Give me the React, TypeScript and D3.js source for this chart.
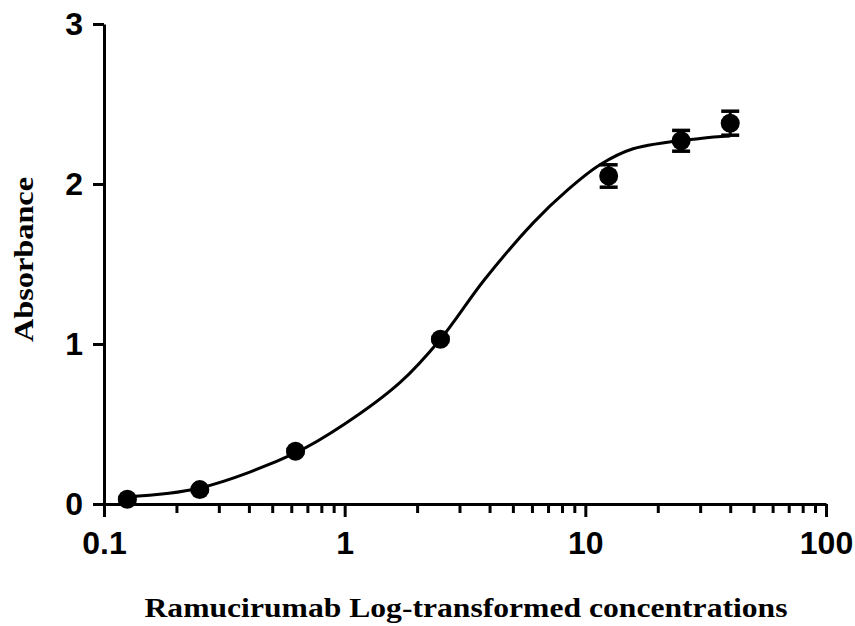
import * as d3 from "d3";
import React, { useEffect, useRef } from "react";

// measured points (concentration, mean absorbance, error)
const concentrations = [0.125, 0.25, 0.625, 2.5, 12.5, 25, 40];
const absorbance = [0.03, 0.09, 0.33, 1.03, 2.05, 2.27, 2.38];
const errors = [0.01, 0.01, 0.01, 0.01, 0.07, 0.065, 0.075];

// fitted curve
const fitX = [0.125, 0.25, 0.625, 1.0, 1.7, 2.5, 3.8, 6.1, 8.4, 11.5, 15.8, 30, 40];
const fitY = [0.045, 0.1, 0.32, 0.5, 0.76, 1.03, 1.4, 1.76, 1.96, 2.12, 2.22, 2.285, 2.3];

const xMajor = [0.1, 1, 10, 100];
const xMinor = [2, 3, 4, 5, 6, 7, 8, 9].flatMap((m) => [m * 0.1, m, m * 10]);
const yTicks = [0, 1, 2, 3];

const xTitle = "Ramucirumab Log-transformed concentrations";
const yTitle = "Absorbance";

const W = 855;
const H = 626;

export default function App() {
  const svgRef = useRef<SVGSVGElement>(null);

  useEffect(() => {
    const svg = d3.select(svgRef.current);
    svg.selectAll("*").remove();

    const x = d3.scaleLog().domain([0.1, 100]).range([104, 826]);
    const y = d3.scaleLinear().domain([0, 3]).range([504, 24]);

    const tickFont = "Liberation Sans, Arial, sans-serif";
    const titleFont = "Liberation Serif, Times New Roman, serif";

    // minor x ticks
    const minor = svg
      .append("g")
      .attr("transform", `translate(0,${y(0)})`)
      .call(
        d3.axisBottom(x).tickValues(xMinor).tickSize(9).tickSizeOuter(0).tickFormat(() => "")
      );
    minor.select(".domain").remove();
    minor.selectAll("line").attr("stroke", "#000").attr("stroke-width", 3);

    // major x ticks
    const xAxis = svg
      .append("g")
      .attr("transform", `translate(0,${y(0)})`)
      .call(
        d3
          .axisBottom(x)
          .tickValues(xMajor)
          .tickSize(13)
          .tickSizeOuter(0)
          .tickPadding(14)
          .tickFormat((d) => d3.format("~g")(d as number))
      );
    xAxis.select(".domain").attr("stroke", "#000").attr("stroke-width", 3);
    xAxis.selectAll("line").attr("stroke", "#000").attr("stroke-width", 3);
    xAxis
      .selectAll("text")
      .attr("fill", "#000")
      .attr("font-family", tickFont)
      .attr("font-weight", "bold")
      .attr("font-size", 32);

    const yAxis = svg
      .append("g")
      .attr("transform", `translate(${x(0.1)},0)`)
      .call(
        d3
          .axisLeft(y)
          .tickValues(yTicks)
          .tickSize(11)
          .tickSizeOuter(0)
          .tickPadding(10)
          .tickFormat(d3.format("d"))
      );
    yAxis.select(".domain").attr("stroke", "#000").attr("stroke-width", 3);
    yAxis.selectAll("line").attr("stroke", "#000").attr("stroke-width", 3);
    yAxis
      .selectAll("text")
      .attr("fill", "#000")
      .attr("font-family", tickFont)
      .attr("font-weight", "bold")
      .attr("font-size", 32);

    // fitted curve
    const line = d3
      .line<number>()
      .x((d, i) => x(fitX[i]))
      .y((d) => y(d))
      .curve(d3.curveCatmullRom.alpha(0.5));
    svg
      .append("path")
      .datum(fitY)
      .attr("d", line)
      .attr("fill", "none")
      .attr("stroke", "#000")
      .attr("stroke-width", 3);

    // error bars
    const pts = concentrations.map((c, i) => ({ c, v: absorbance[i], e: errors[i] }));
    const bars = svg.append("g").selectAll("g").data(pts).join("g");
    bars
      .append("line")
      .attr("x1", (d) => x(d.c))
      .attr("x2", (d) => x(d.c))
      .attr("y1", (d) => y(d.v - d.e))
      .attr("y2", (d) => y(d.v + d.e))
      .attr("stroke", "#000")
      .attr("stroke-width", 3);
    [1, -1].forEach((s) => {
      bars
        .append("line")
        .attr("x1", (d) => x(d.c) - 9)
        .attr("x2", (d) => x(d.c) + 9)
        .attr("y1", (d) => y(d.v + s * d.e))
        .attr("y2", (d) => y(d.v + s * d.e))
        .attr("stroke", "#000")
        .attr("stroke-width", 3.5);
    });

    // points
    svg
      .append("g")
      .selectAll("circle")
      .data(pts)
      .join("circle")
      .attr("cx", (d) => x(d.c))
      .attr("cy", (d) => y(d.v))
      .attr("r", 9.5)
      .attr("fill", "#000");

    // titles
    svg
      .append("text")
      .attr("x", 466)
      .attr("y", 617)
      .attr("text-anchor", "middle")
      .attr("textLength", 643)
      .attr("lengthAdjust", "spacingAndGlyphs")
      .attr("font-family", titleFont)
      .attr("font-weight", "bold")
      .attr("font-size", 27)
      .text(xTitle);

    svg
      .append("text")
      .attr("transform", "translate(33,259.5) rotate(-90)")
      .attr("text-anchor", "middle")
      .attr("textLength", 165)
      .attr("lengthAdjust", "spacingAndGlyphs")
      .attr("font-family", titleFont)
      .attr("font-weight", "bold")
      .attr("font-size", 27)
      .text(yTitle);
  }, []);

  return (
    <svg
      ref={svgRef}
      width={W}
      height={H}
      style={{ position: "absolute", left: 0, top: 0, background: "#fff" }}
    />
  );
}
